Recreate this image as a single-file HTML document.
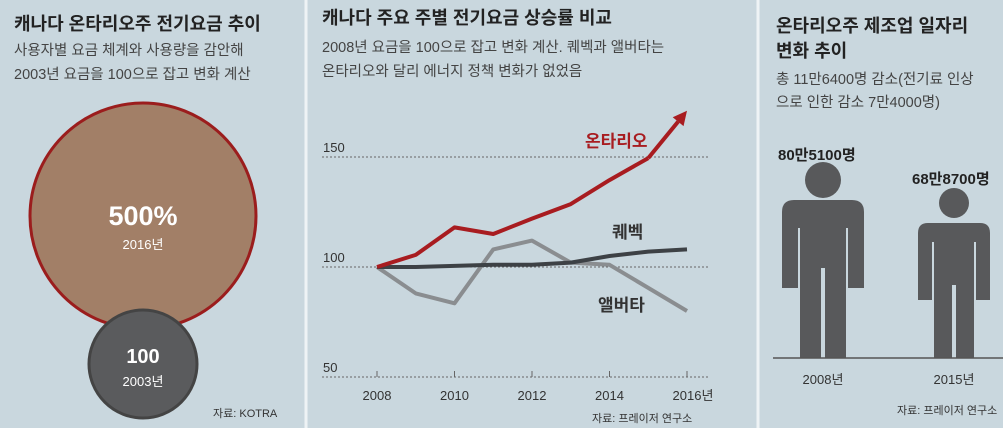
<!DOCTYPE html>
<html><head><meta charset="utf-8"><style>
body{margin:0;width:1003px;height:428px;overflow:hidden;background:#c9d7de;font-family:"Liberation Sans","Noto Sans CJK KR",sans-serif;}
svg{display:block}
</style></head><body>
<svg width="1003" height="428" font-family="Liberation Sans, Noto Sans CJK KR, sans-serif">
<rect width="1003" height="428" fill="#c9d7de"/>
<line x1="306" y1="0" x2="306" y2="428" stroke="#eef3f5" stroke-width="3"/>
<line x1="758" y1="0" x2="758" y2="428" stroke="#eef3f5" stroke-width="3"/>

<g>
<text x="14" y="30" font-size="18" font-weight="bold" fill="#222">캐나다 온타리오주 전기요금 추이</text>
<text x="14" y="55" font-size="14.5" fill="#444">사용자별 요금 체계와 사용량을 감안해</text>
<text x="14" y="79" font-size="14.5" fill="#444">2003년 요금을 100으로 잡고 변화 계산</text>
<circle cx="143" cy="216" r="113" fill="#a27f67" stroke="#9b1d1d" stroke-width="3"/>
<circle cx="143" cy="364" r="54" fill="#5a5b5d" stroke="#444" stroke-width="3"/>
<text x="143" y="225" font-size="27" font-weight="bold" fill="#fff" text-anchor="middle">500%</text>
<text x="143" y="249" font-size="13" fill="#fff" text-anchor="middle">2016년</text>
<text x="143" y="363" font-size="20" font-weight="bold" fill="#fff" text-anchor="middle">100</text>
<text x="143" y="386" font-size="13" fill="#fff" text-anchor="middle">2003년</text>
<text x="213" y="417" font-size="11" fill="#333">자료: KOTRA</text>
</g>

<g>
<text x="322" y="24" font-size="18" font-weight="bold" fill="#222">캐나다 주요 주별 전기요금 상승률 비교</text>
<text x="322" y="52" font-size="14.5" fill="#444">2008년 요금을 100으로 잡고 변화 계산. 퀘벡과 앨버타는</text>
<text x="322" y="76" font-size="14.5" fill="#444">온타리오와 달리 에너지 정책 변화가 없었음</text>
<g id="chart"></g>
<text x="592" y="422" font-size="11" fill="#333">자료: 프레이저 연구소</text>
</g>

<g>
<text x="776" y="32" font-size="18" font-weight="bold" fill="#222">온타리오주 제조업 일자리</text>
<text x="776" y="57" font-size="18" font-weight="bold" fill="#222">변화 추이</text>
<text x="776" y="84" font-size="14.5" fill="#444">총 11만6400명 감소(전기료 인상</text>
<text x="776" y="107" font-size="14.5" fill="#444">으로 인한 감소 7만4000명)</text>
<text x="778" y="160" font-size="15" font-weight="bold" fill="#222">80만5100명</text>
<text x="912" y="184" font-size="15" font-weight="bold" fill="#222">68만8700명</text>
<g fill="#58595b">
<circle cx="823" cy="180" r="18"/>
<path d="M782 288 V212 Q782 200 794 200 H852 Q864 200 864 212 V288 H848 V228 H846 V358 H825 V268 H821 V358 H800 V228 H798 V288 Z"/>
</g>
<g fill="#58595b">
<circle cx="954" cy="203" r="15"/>
<path d="M918 300 V233 Q918 223 928 223 H980 Q990 223 990 233 V300 H976 V242 H974 V358 H956 V285 H952 V358 H934 V242 H932 V300 Z"/>
</g>
<line x1="773" y1="358" x2="1003" y2="358" stroke="#555" stroke-width="1.5"/>
<text x="823" y="384" font-size="13" fill="#333" text-anchor="middle">2008년</text>
<text x="954" y="384" font-size="13" fill="#333" text-anchor="middle">2015년</text>
<text x="897" y="414" font-size="11" fill="#333">자료: 프레이저 연구소</text>
</g>
</svg>
<script>
const years=[2008,2009,2010,2011,2012,2013,2014,2015,2016];
const ontario=[100,105.5,118,115,122,128.6,139.5,149.5,171];
const quebec=[100,100,100.5,101,101,102,105,107,108];
const alberta=[100,88,83.5,108,112,102,101,90.5,80];
const yTicks=[50,100,150];
const xTickLabels=["2008","2010","2012","2014","2016년"];
const xTickYears=[2008,2010,2012,2014,2016];
const NS="http://www.w3.org/2000/svg";
const g=document.getElementById('chart');
function xs(y){return 377+(y-2008)*38.75;}
function ys(v){return 267-(v-100)*2.2;}
function mk(t,a){const e=document.createElementNS(NS,t);for(const k in a)e.setAttribute(k,a[k]);g.appendChild(e);return e;}
yTicks.forEach(t=>{
const l=mk('line',{x1:322,x2:710,y1:ys(t),y2:ys(t),stroke:'#666','stroke-width':1,'stroke-dasharray':'2,2'});


const tx=mk('text',{x:323,y:ys(t)-5,'font-size':13,fill:'#333'});tx.textContent=t;


});
xTickYears.forEach((yr,i)=>{
const l=mk('line',{x1:xs(yr),x2:xs(yr),y1:ys(50)-6,y2:ys(50),stroke:'#666','stroke-width':1});


const tx=mk('text',{x:xs(yr)+(i==4?6:0),y:400,'font-size':13,fill:'#333','text-anchor':'middle'});tx.textContent=xTickLabels[i];


});
function line(arr,col,w,name){
const p=mk('polyline',{points:arr.map((v,i)=>xs(years[i])+','+ys(v)).join(' '),fill:'none',stroke:col,'stroke-width':w,'stroke-linejoin':'round'});


return p;}
line(alberta,'#8a8d90',4,'line-alberta');
line(quebec,'#3d4145',4,'line-quebec');
line(ontario.slice(0,8),'#a81c20',4,'line-ontario');
const n=ontario.length-1,x1=xs(years[n-1]),y1=ys(ontario[n-1]),x2=xs(years[n]),y2=ys(ontario[n]);
const ang=Math.atan2(y2-y1,x2-x1),L=14;
const sx=x2-Math.cos(ang)*L,sy=y2-Math.sin(ang)*L;
const s=mk('line',{x1:x1,y1:y1,x2:sx,y2:sy,stroke:'#a81c20','stroke-width':4});


const px=-Math.sin(ang)*7,py=Math.cos(ang)*7;
const h=mk('polygon',{points:`${x2},${y2} ${sx+px},${sy+py} ${sx-px},${sy-py}`,fill:'#a81c20'});


[['온타리오',585,147,'#a81c20','label-ontario'],['퀘벡',612,238,'#333','label-quebec'],['앨버타',598,311,'#333','label-alberta']].forEach(a=>{
const t=mk('text',{x:a[1],y:a[2],'font-size':17,fill:a[3],'font-weight':'bold'});t.textContent=a[0];


});
</script>
</body></html>
